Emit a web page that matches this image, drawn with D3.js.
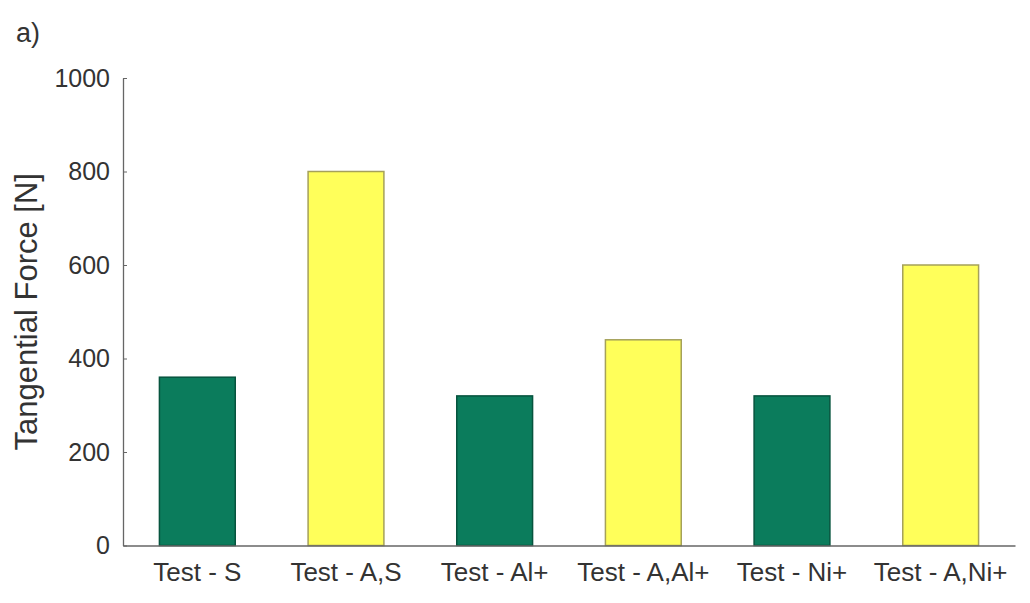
<!DOCTYPE html>
<html>
<head>
<meta charset="utf-8">
<script src="https://cdn.jsdelivr.net/npm/d3@7"></script>
<style>
  body { margin: 0; background: #fff; }
  svg { display: block; font-family: "Liberation Sans", Arial, sans-serif; }
</style>
</head>
<body>
<svg id="chart" width="1030" height="603"></svg>
<script>
const categories = ["Test - S", "Test - A,S", "Test - Al+", "Test - A,Al+", "Test - Ni+", "Test - A,Ni+"];
const forces = [360, 800, 320, 440, 320, 600];
const groups = ["plain", "A", "plain", "A", "plain", "A"];
const yTicks = [0, 200, 400, 600, 800, 1000];

const fillColor = { plain: "#0b7c5c", A: "#ffff5a" };
const strokeColor = { plain: "#06543e", A: "#a5a15a" };

const svg = d3.select("#chart");
const margin = { left: 123, right: 15, top: 78, bottom: 57 };
const W = 1030, H = 603;
const textColor = "#333";
const fontFamily = "Liberation Sans, Arial, sans-serif";

const x = d3.scaleBand()
  .domain(categories)
  .range([margin.left, W - margin.right])
  .paddingInner(0.49)
  .paddingOuter(0.245);

const y = d3.scaleLinear()
  .domain([0, 1000])
  .range([H - margin.bottom - 0.5, margin.top]);

// bars
svg.append("g").selectAll("rect")
  .data(categories)
  .join("rect")
  .attr("x", d => x(d))
  .attr("width", x.bandwidth())
  .attr("y", (d, i) => y(forces[i]))
  .attr("height", (d, i) => y(0) - y(forces[i]))
  .attr("fill", (d, i) => fillColor[groups[i]])
  .attr("stroke", (d, i) => strokeColor[groups[i]])
  .attr("stroke-width", 1.5);

// y axis
const yAxis = svg.append("g")
  .attr("transform", `translate(${margin.left},0)`)
  .call(d3.axisLeft(y).tickValues(yTicks).tickFormat(d3.format("d"))
    .tickSizeInner(-4).tickSizeOuter(0).tickPadding(13));
yAxis.select(".domain").attr("stroke", "#666").attr("stroke-width", 1.3);
yAxis.selectAll(".tick line").attr("stroke", "#666");
yAxis.selectAll(".tick text")
  .attr("font-size", 25)
  .attr("fill", textColor)
  .attr("font-family", fontFamily);

// x axis
const xAxis = svg.append("g")
  .attr("transform", `translate(0,${y(0)})`)
  .call(d3.axisBottom(x).tickSize(0).tickPadding(17));
xAxis.select(".domain").attr("stroke", "#666").attr("stroke-width", 1.3);
xAxis.selectAll(".tick text")
  .attr("font-size", 26)
  .attr("fill", textColor)
  .attr("font-family", fontFamily);

// axis title
svg.append("text")
  .attr("transform", `translate(37,${(y(0) + y(1000)) / 2}) rotate(-90)`)
  .attr("text-anchor", "middle")
  .attr("font-size", 31)
  .attr("fill", textColor)
  .text("Tangential Force [N]");

// panel label
svg.append("text")
  .attr("x", 16)
  .attr("y", 42)
  .attr("font-size", 27)
  .attr("fill", textColor)
  .text("a)");
</script>
</body>
</html>
